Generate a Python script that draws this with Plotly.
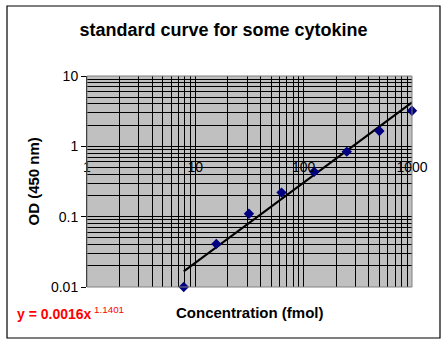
import plotly.graph_objects as go

# Standard dilution series (fmol) and measured optical density at 450 nm
concentration = [7.8125, 15.625, 31.25, 62.5, 125, 250, 500, 1000]
od_450 = [0.01, 0.041, 0.11, 0.22, 0.435, 0.84, 1.65, 3.2]

# Power-law fit reported on the chart: y = a * x^b
fit_a = 0.0016
fit_b = 1.1401

x_major = [1, 10, 100, 1000]
x_major_labels = ["1", "10", "100", "1000"]
y_major = [0.01, 0.1, 1, 10]
y_major_labels = ["0.01", "0.1", "1", "10"]
digits = [2, 3, 4, 5, 6, 7, 8, 9]
x_minor = [d * m for m in (1, 10, 100) for d in digits]
y_minor = [d * m for m in (0.01, 0.1, 1) for d in digits]

fit_x = [concentration[0], concentration[-1]]
fit_y = [fit_a * v ** fit_b for v in fit_x]

W, H = 447, 344
L, R, T, B = 87, 35, 76, 57
pw, ph = W - L - R, H - T - B


def px(xp):
    return (xp - L) / pw


def py(yp):
    return (H - B - yp) / ph


fig = go.Figure()

fig.add_trace(go.Scatter(
    x=fit_x, y=fit_y, mode="lines",
    line=dict(color="black", width=2),
    hoverinfo="skip", showlegend=False,
))
fig.add_trace(go.Scatter(
    x=concentration, y=od_450, mode="markers",
    marker=dict(symbol="diamond", size=8, color="#000080"),
    cliponaxis=False, showlegend=False,
))

fig.update_layout(
    width=W, height=H,
    margin=dict(l=L, r=R, t=T, b=B),
    paper_bgcolor="white",
    plot_bgcolor="#C0C0C0",
    font=dict(family="Arial, Liberation Sans, sans-serif", size=14, color="black"),
    title=dict(
        text="<b>standard curve for some cytokine</b>",
        x=223.5 / W, xref="container", xanchor="center",
        y=1 - 30 / H, yref="container", yanchor="middle",
        font=dict(size=18, color="black"),
    ),
    xaxis=dict(
        type="log", range=[0, 3],
        anchor="free", position=2 / 3,
        tickvals=x_major, ticktext=x_major_labels,
        ticks="", ticklabelstandoff=11,
        showgrid=True, gridcolor="black", gridwidth=1,
        minor=dict(tickvals=x_minor, showgrid=True, gridcolor="black", gridwidth=1),
        showline=False, zeroline=False,
        tickfont=dict(size=14, color="black"),
    ),
    yaxis=dict(
        type="log", range=[-2, 1],
        tickvals=y_major, ticktext=y_major_labels,
        ticks="outside", ticklen=5, tickcolor="black", tickwidth=1,
        showgrid=True, gridcolor="black", gridwidth=1,
        minor=dict(tickvals=y_minor, showgrid=True, gridcolor="black", gridwidth=1),
        showline=True, linecolor="black", linewidth=1,
        zeroline=False,
        tickfont=dict(size=14, color="black"),
    ),
    shapes=[
        # plot-area frame
        dict(type="rect", xref="paper", yref="paper", x0=0, x1=1, y0=0, y1=1,
             line=dict(color="#808080", width=1), layer="above"),
        # chart-area border
        dict(type="rect", xref="paper", yref="paper",
             x0=px(7), x1=px(440), y0=py(338), y1=py(6),
             line=dict(color="black", width=1.2)),
    ],
    annotations=[
        dict(text="<b>OD (450 nm)</b>", textangle=-90,
             xref="paper", yref="paper", x=px(33), y=0.5,
             xanchor="center", yanchor="middle", showarrow=False,
             font=dict(size=15, color="black")),
        dict(text="<b>Concentration (fmol)</b>",
             xref="paper", yref="paper", x=0.5, y=py(312),
             xanchor="center", yanchor="middle", showarrow=False,
             font=dict(size=15, color="black")),
        dict(text="<b>y = %.4fx</b><sup> %.4f</sup>" % (fit_a, fit_b),
             xref="paper", yref="paper", x=px(15), y=py(313),
             xanchor="left", yanchor="middle", showarrow=False,
             font=dict(size=14, color="#FF0000")),
    ],
)

fig.write_html("out.html")
